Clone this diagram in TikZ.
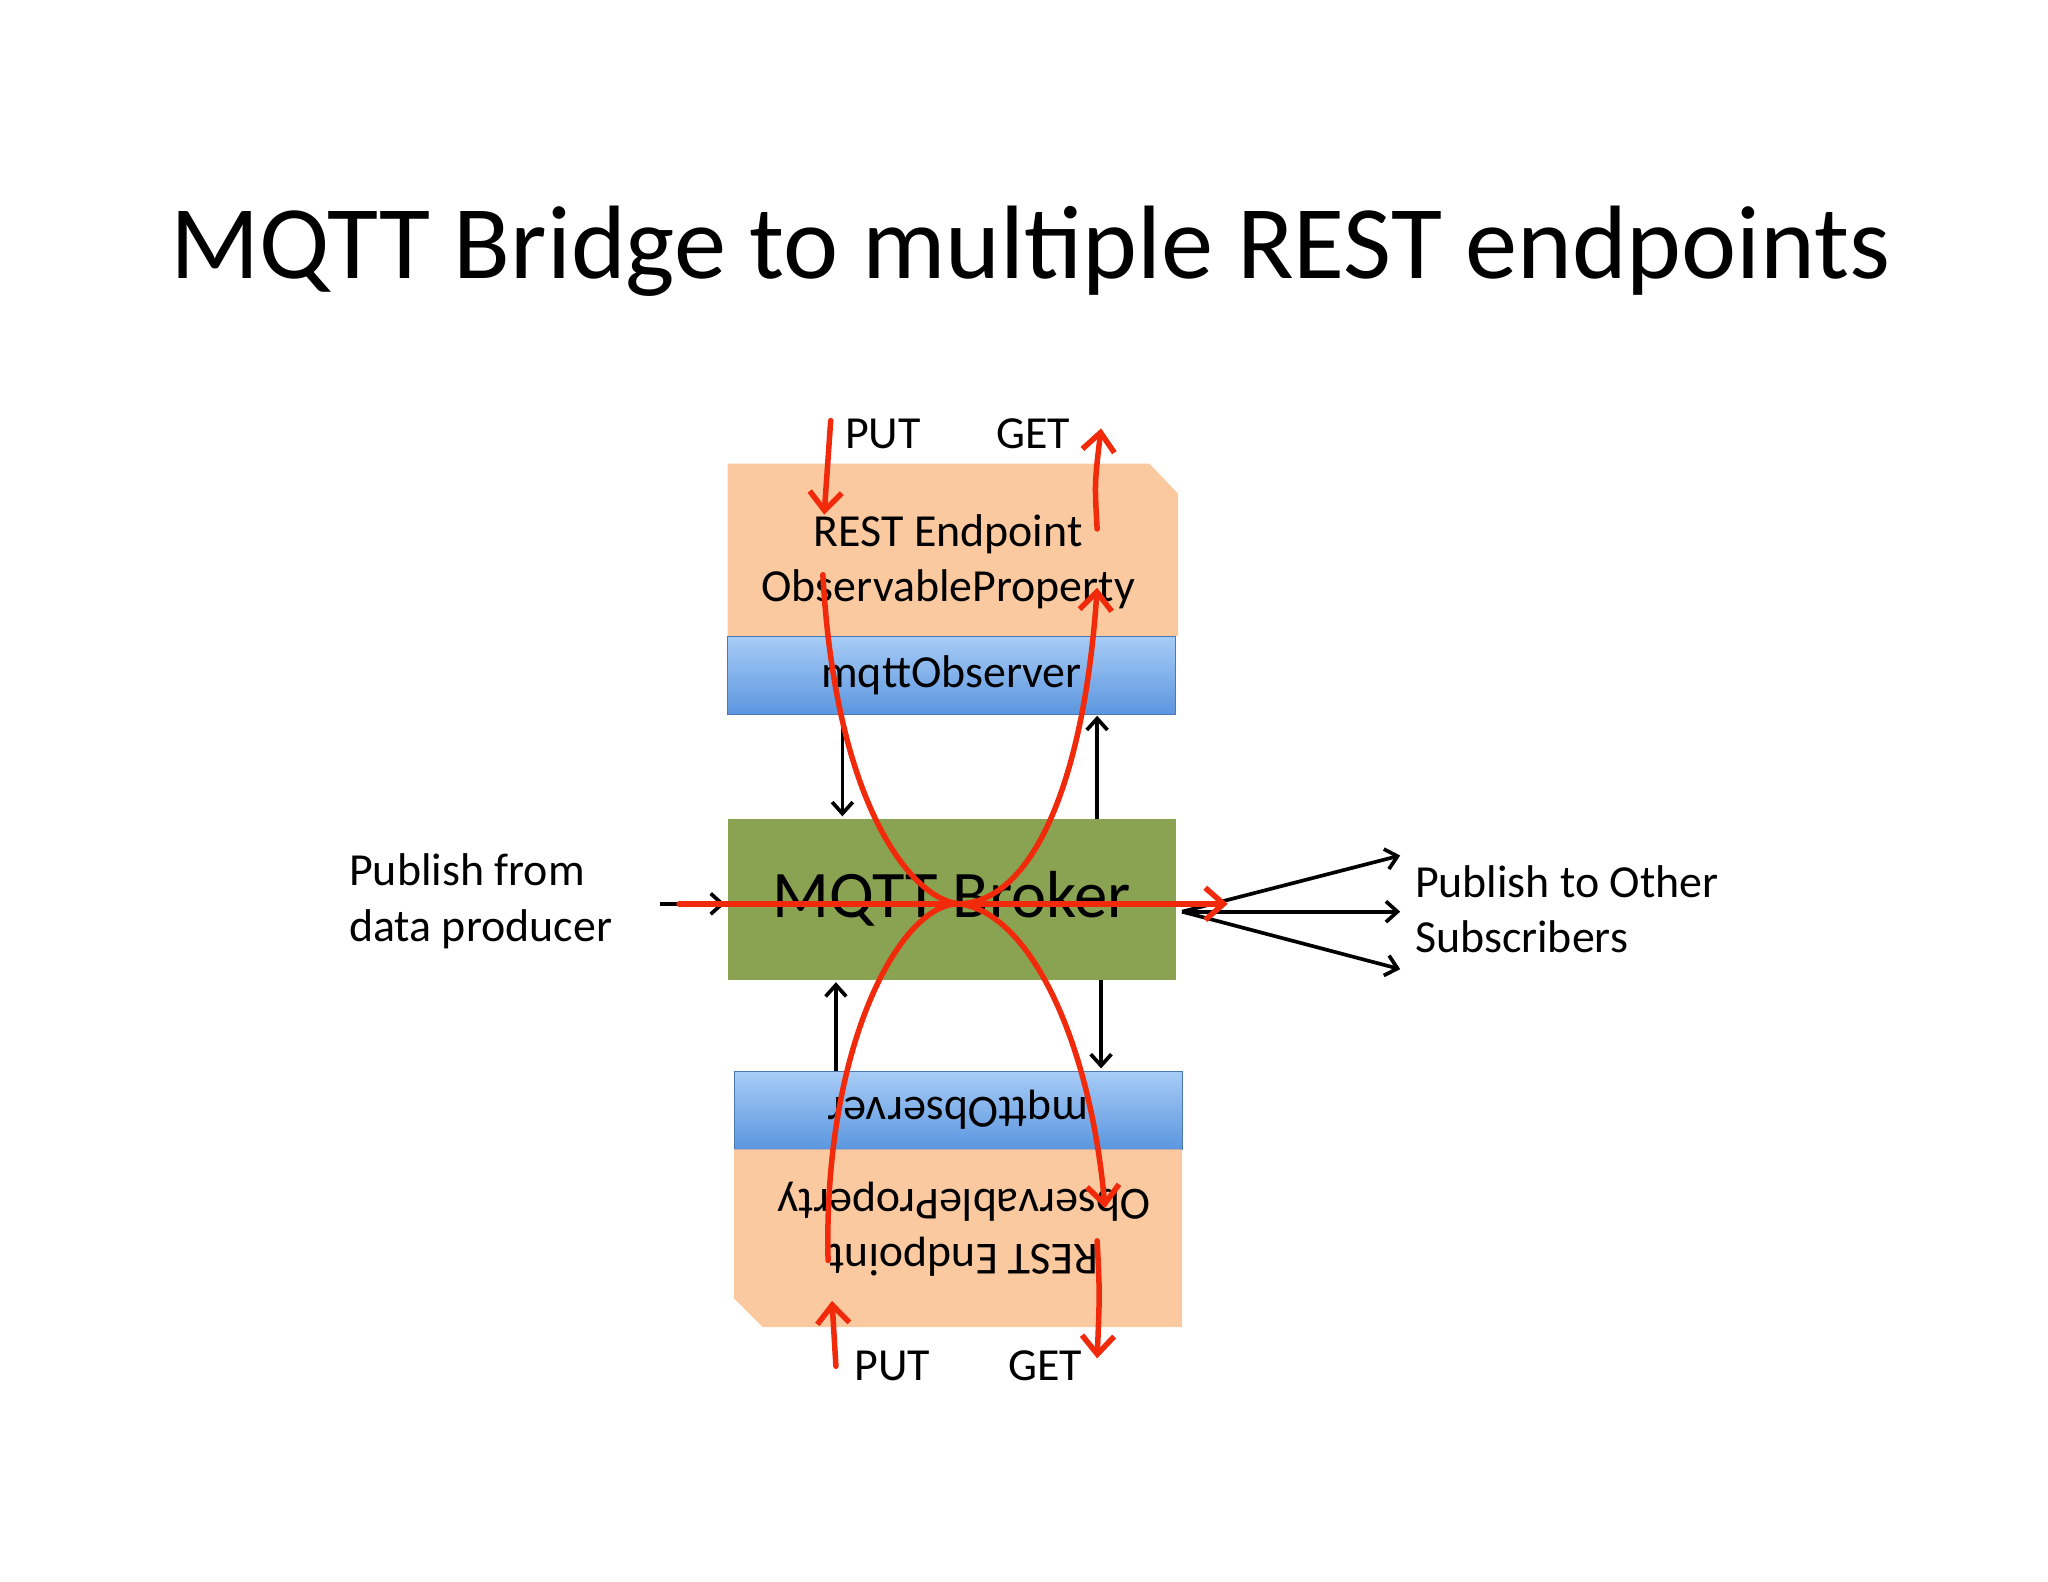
\documentclass[tikz,border=0pt]{standalone}
\usepackage{fontspec}
\setmainfont{Carlito}
\usetikzlibrary{arrows.meta}
\definecolor{peach}{HTML}{FBC9A0}
\definecolor{broker}{HTML}{8AA352}
\definecolor{bluetop}{HTML}{A8CCF6}
\definecolor{bluebot}{HTML}{5B96DF}
\definecolor{redline}{HTML}{F02A0A}
\begin{document}
\begin{tikzpicture}[x=0.02cm,y=-0.02cm,
  lbl/.style={font=\fontsize{20}{24}\selectfont, inner sep=0pt},
  obs/.style={draw=bluebot!80!black, line width=0.4pt, minimum width=343*0.02cm, minimum height=60*0.02cm, inner sep=0pt},
  blk/.style={-{Straight Barb[length=5pt,width=9pt]}, line width=1.6pt},
  red/.style={draw=redline, line width=2.4pt, line cap=round},
  redarr/.style={red, -{Straight Barb[length=8pt,width=14pt]}}]
\useasboundingbox[fill=white] (0,0) rectangle (1568,1211);

% title
\node[font=\fontsize{45.5}{54}\selectfont] (title) at (789,192) {MQTT Bridge to multiple REST endpoints};

% top endpoint
\fill[peach] (557,355) -- (880,355) -- (902,378) -- (902,487) -- (557,487) -- cycle;
\node[lbl, align=center] (toprest) at (726,430) {REST Endpoint\\ObservableProperty};
\node[obs, top color=bluetop, bottom color=bluebot] (topobs) at (728.5,517) {};
\node[lbl] at (topobs) {mqttObserver};

% broker
\node[fill=broker, minimum width=343*0.02cm, minimum height=123*0.02cm, inner sep=0pt] (brk) at (728.5,688.5) {};
\node[font=\fontsize{29}{35}\selectfont] at (brk) {MQTT Broker};

% bottom endpoint
\node[obs, top color=bluetop, bottom color=bluebot] (botobs) at (733.5,850) {};
\node[lbl, rotate=180] at (botobs) {mqttObserver};
\fill[peach] (562,880) -- (905,880) -- (905,1016) -- (584,1016) -- (562,994) -- cycle;
\node[lbl, align=center, rotate=180] (botrest) at (738,941) {REST Endpoint\\ObservableProperty};

% black arrows
\coordinate (a1) at (645,548); \coordinate (a2) at (645,625);
\coordinate (b1) at (840,627); \coordinate (b2) at (840,548);
\coordinate (c1) at (640,820); \coordinate (c2) at (640,752);
\coordinate (d1) at (843,750); \coordinate (d2) at (843,818);
\draw[blk] (a1) -- (a2);
\draw[blk] (b1) -- (b2);
\draw[blk] (c1) -- (c2);
\draw[blk] (d1) -- (d2);
\coordinate (inL) at (505,692); \coordinate (inR) at (555,692);
\draw[blk] (inL) -- (inR);
\coordinate (o) at (905,698);
\coordinate (o1) at (1072,655); \coordinate (o2) at (1072,698); \coordinate (o3) at (1072,742);
\draw[blk] (o) -- (o1);
\draw[blk] (o) -- (o2);
\draw[blk] (o) -- (o3);

% labels
\node[lbl, align=left, anchor=west] (pubin) at (267,690) {Publish from\\data producer};
\node[lbl, align=left, anchor=west] (pubout) at (1083,696) {Publish to Other\\Subscribers};
\node[lbl] (put1) at (676,332) {PUT};
\node[lbl] (get1) at (791,332) {GET};
\node[lbl] (put2) at (683,1046) {PUT};
\node[lbl] (get2) at (800,1046) {GET};

% red flows
\draw[redarr] (636,322) -- (631,394);
\draw[redarr] (840,405) .. controls (838,370) .. (843,328);
\draw[redarr] (640,1046) -- (637,996);
\draw[redarr] (840,950) .. controls (842,990) .. (840,1040);
\draw[redarr] (630,440) .. controls (640,620) and (700,690) .. (735,692)
  .. controls (790,700) and (835,800) .. (846,925);
\draw[redarr] (634,965) .. controls (630,800) and (690,690) .. (735,692)
  .. controls (790,690) and (830,600) .. (840,450);
\draw[redarr] (520,692) -- (940,692);
\end{tikzpicture}
\end{document}
